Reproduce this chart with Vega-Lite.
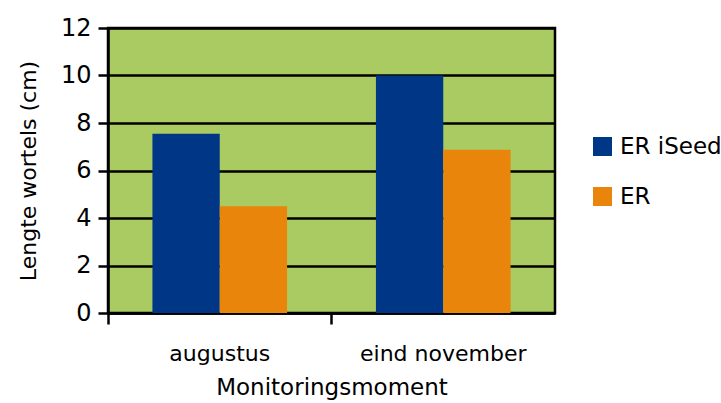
{
  "$schema": "https://vega.github.io/schema/vega-lite/v6.json",
  "autosize": "none",
  "width": 447,
  "height": 285,
  "padding": {"left": 108, "top": 28, "right": 166, "bottom": 90},
  "background": "white",
  "config": {
    "font": "DejaVu Sans",
    "view": {"fill": "#AACB61", "stroke": "black", "strokeWidth": 2.5}
  },
  "data": {
    "values": [
      {"moment": "augustus", "serie": "ER iSeed", "lengte": 7.55},
      {"moment": "augustus", "serie": "ER", "lengte": 4.5},
      {"moment": "eind november", "serie": "ER iSeed", "lengte": 10.0},
      {"moment": "eind november", "serie": "ER", "lengte": 6.87}
    ]
  },
  "mark": {"type": "bar"},
  "encoding": {
    "x": {
      "field": "moment",
      "type": "nominal",
      "sort": ["augustus", "eind november"],
      "scale": {"paddingInner": 0, "paddingOuter": 0},
      "axis": {
        "title": "Monitoringsmoment",
        "titleFontSize": 23,
        "titleFontWeight": "normal",
        "titleColor": "black",
        "titlePadding": 12,
        "labelAngle": 0,
        "labelFontSize": 22,
        "labelColor": "black",
        "labelPadding": 19,
        "bandPosition": 0,
        "tickSize": 11,
        "tickWidth": 2.5,
        "tickColor": "black",
        "domainColor": "black",
        "domainWidth": 2.5
      }
    },
    "xOffset": {
      "field": "serie",
      "type": "nominal",
      "sort": ["ER iSeed", "ER"],
      "scale": {"paddingInner": 0, "paddingOuter": 0.66}
    },
    "y": {
      "field": "lengte",
      "type": "quantitative",
      "scale": {"domain": [0, 12]},
      "axis": {
        "title": "Lengte wortels (cm)",
        "titleFontSize": 22,
        "titleFontWeight": "normal",
        "titleColor": "black",
        "titlePadding": 20,
        "values": [0, 2, 4, 6, 8, 10, 12],
        "labelFontSize": 24,
        "labelColor": "black",
        "labelPadding": 7,
        "tickSize": 10,
        "tickWidth": 2.5,
        "tickColor": "black",
        "grid": true,
        "gridColor": "black",
        "gridWidth": 2.5,
        "gridOpacity": 1,
        "domainColor": "black",
        "domainWidth": 2.5
      }
    },
    "color": {
      "field": "serie",
      "type": "nominal",
      "sort": ["ER iSeed", "ER"],
      "scale": {"domain": ["ER iSeed", "ER"], "range": ["#003686", "#E8850A"]},
      "legend": {
        "title": null,
        "orient": "none",
        "legendX": 483,
        "legendY": 107,
        "symbolType": "square",
        "symbolSize": 361,
        "symbolStrokeWidth": 0,
        "labelFontSize": 23,
        "labelColor": "black",
        "labelOffset": 6,
        "rowPadding": 26,
        "padding": 0
      }
    }
  }
}
